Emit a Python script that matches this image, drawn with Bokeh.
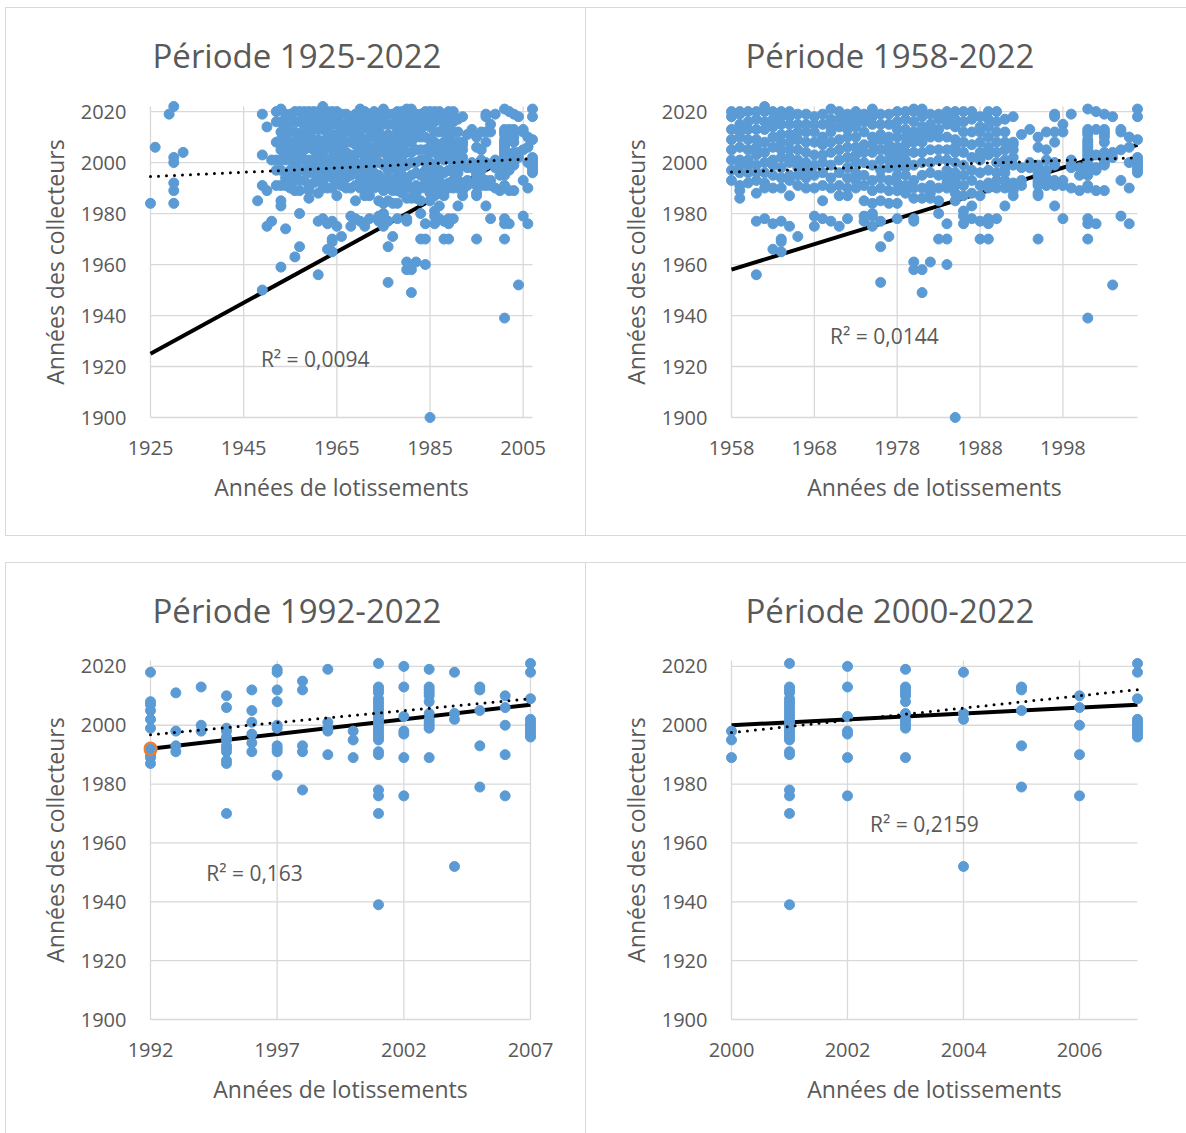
from bokeh.plotting import figure
from bokeh.models import Label, Range1d, FixedTicker, Spacer, ColumnDataSource
from bokeh.layouts import row, column
from bokeh.embed import file_html
from bokeh.resources import INLINE

# ---------------- data ----------------
lot_years = [1925, 1926, 1929, 1930, 1932, 1948, 1949, 1950, 1951, 1952, 1953, 1954,
             1955, 1956, 1957, 1958, 1959, 1960, 1961, 1962, 1963, 1964, 1965, 1966,
             1967, 1968, 1969, 1970, 1971, 1972, 1973, 1974, 1975, 1976, 1977, 1978,
             1979, 1980, 1981, 1982, 1983, 1984, 1985, 1986, 1987, 1988, 1989, 1990,
             1991, 1992, 1993, 1994, 1995, 1996, 1997, 1998, 1999, 2000, 2001, 2002,
             2003, 2004, 2005, 2006, 2007]

collector_years = [
    [1984], [2006], [2019], [2022, 2002, 2000, 1992, 1989, 1984], [2004],
    [1985], [2019, 2003, 1991, 1950], [2014, 1989, 1975], [2001, 1977],
    [2020, 2016, 2008, 2001, 1997, 1991],
    [2021, 2016, 2012, 2009, 2005, 2001, 1997, 1991, 1985, 1983, 1959],
    [2019, 2015, 2011, 2007, 2004, 2001, 1994, 1991, 1974],
    [2019, 2016, 2012, 2008, 2004, 2001, 1997, 1993, 1990],
    [2020, 2016, 2012, 2008, 2005, 2003, 1999, 1996, 1993, 1989, 1963],
    [2020, 2016, 2011, 2007, 2003, 2001, 1997, 1993, 1989, 1980, 1967],
    [2020, 2018, 2013, 2009, 2005, 2001, 1997, 1993],
    [2020, 2019, 2015, 2012, 2010, 2006, 2001, 1999, 1996, 1991, 1989, 1986],
    [2020, 2016, 2013, 2009, 2005, 2001, 1999, 1996, 1992],
    [2020, 2017, 2013, 2009, 2006, 2003, 1999, 1996, 1993, 1988, 1977, 1956],
    [2022, 2020, 2016, 2013, 2008, 2004, 2000, 1996, 1992, 1990, 1978],
    [2020, 2017, 2014, 2010, 2006, 2001, 1999, 1995, 1990, 1976, 1966],
    [2020, 2018, 2015, 2011, 2008, 2005, 2002, 1998, 1994, 1990, 1977, 1970, 1969, 1965],
    [2020, 2018, 2015, 2011, 2008, 2005, 2002, 2000, 1995, 1993, 1987, 1975],
    [2019, 2015, 2012, 2009, 2005, 2001, 1998, 1995, 1991, 1971],
    [2019, 2015, 2012, 2008, 2004, 2000, 1997, 1994, 1990],
    [2018, 2015, 2012, 2008, 2003, 1999, 1995, 1990, 1979, 1975],
    [2019, 2015, 2010, 2007, 2003, 2000, 1996, 1991, 1985, 1978],
    [2021, 2017, 2014, 2012, 2008, 2004, 1999, 1994, 1990, 1977],
    [2020, 2017, 2014, 2009, 2005, 2001, 1996, 1991, 1987, 1975],
    [2019, 2016, 2013, 2010, 2006, 2002, 1998, 1994, 1990, 1987, 1978],
    [2020, 2017, 2014, 2010, 2006, 2003, 2000, 1996, 1993, 1990],
    [2019, 2016, 2012, 2007, 2004, 2000, 1995, 1991, 1985, 1979, 1977],
    [2021, 2018, 2015, 2010, 2007, 2004, 1999, 1993, 1989, 1984, 1980, 1979, 1975],
    [2019, 2015, 2011, 2009, 2005, 2001, 1997, 1994, 1990, 1985, 1977, 1967, 1953],
    [2019, 2015, 2010, 2007, 2004, 2001, 1998, 1993, 1989, 1984, 1971],
    [2020, 2016, 2013, 2010, 2006, 2003, 2000, 1998, 1995, 1992, 1989, 1984, 1978],
    [2020, 2017, 2013, 2010, 2007, 2004, 2001, 1998, 1995, 1991, 1988],
    [2021, 2020, 2016, 2012, 2010, 2008, 2004, 1999, 1993, 1990, 1986, 1978, 1977, 1961, 1958],
    [2021, 2018, 2014, 2011, 2008, 2004, 2000, 1995, 1990, 1986, 1958, 1949],
    [2019, 2015, 2012, 2010, 2005, 2000, 1996, 1991, 1988, 1986, 1961],
    [2019, 2017, 2013, 2010, 2005, 2001, 1995, 1990, 1985, 1980, 1970],
    [2020, 2018, 2015, 2010, 2005, 2001, 1997, 1994, 1992, 1990, 1976, 1970, 1960],
    [2020, 2017, 2014, 2009, 2006, 2004, 2000, 1996, 1993, 1991, 1988, 1985, 1900],
    [2020, 2016, 2012, 2008, 2004, 1999, 1995, 1991, 1987, 1981, 1979, 1976],
    [2020, 2017, 2012, 2007, 2002, 1997, 1993, 1988, 1983, 1978],
    [2018, 2014, 2012, 2008, 2004, 2001, 1996, 1991, 1987, 1977, 1970],
    [2020, 2017, 2014, 2010, 2006, 2003, 1997, 1992, 1990, 1978, 1976, 1970],
    [2020, 2016, 2012, 2008, 2004, 2000, 1996, 1993, 1990, 1978],
    [2017, 2012, 2008, 2005, 2001, 1998, 1996, 1993, 1990, 1983],
    [2018, 2008, 2007, 2005, 2002, 1999, 1992, 1990, 1989, 1987],
    [2011, 1998, 1993, 1991],
    [2013, 2000, 1998],
    [2010, 2006, 1999, 1998, 1996, 1995, 1993, 1992, 1991, 1988, 1987, 1970],
    [2012, 2005, 2001, 1997, 1994, 1991],
    [2019, 2018, 2012, 2008, 2000, 1999, 1993, 1992, 1991, 1983],
    [2015, 2012, 1993, 1991, 1978],
    [2019, 2001, 1999, 1998, 1990],
    [1998, 1995, 1989],
    [2021, 2013, 2012, 2011, 2009, 2008, 2007, 2006, 2005, 2004, 2003, 2002, 2001,
     2000, 1999, 1998, 1997, 1996, 1995, 1991, 1990, 1978, 1976, 1970, 1939],
    [2020, 2013, 2003, 1998, 1997, 1989, 1976],
    [2019, 2013, 2012, 2011, 2010, 2008, 2004, 2002, 2001, 2000, 1999, 1989],
    [2018, 2004, 2002, 1952],
    [2013, 2012, 2005, 1993, 1979],
    [2010, 2006, 2000, 1990, 1976],
    [2021, 2018, 2009, 2002, 2001, 2000, 1999, 1998, 1997, 1996],
]

titles = ["Période 1925-2022", "Période 1958-2022", "Période 1992-2022", "Période 2000-2022"]
period_start = [1925, 1958, 1992, 2000]
x_end = 2007
y_min, y_max = 1900, 2022
y_ticks = [1900, 1920, 1940, 1960, 1980, 2000, 2020]
x_ticks = [[1925, 1945, 1965, 1985, 2005],
           [1958, 1968, 1978, 1988, 1998],
           [1992, 1997, 2002, 2007],
           [2000, 2002, 2004, 2006]]
trend_start = [1994.5, 1996.3, 1996.8, 1997.5]
trend_end = [2001.5, 2001.9, 2009.0, 2012.1]
r2_text = ["R² = 0,0094", "R² = 0,0144", "R² = 0,163", "R² = 0,2159"]
x_label = "Années de lotissements"
y_label = "Années des collecteurs"

# flatten
xs, ys = [], []
for yr, grp in zip(lot_years, collector_years):
    for v in grp:
        xs.append(yr)
        ys.append(v)

# ---------------- layout / style ----------------
BLUE = "#5B9BD5"
ORANGE = "#ED7D31"
GRID = "#D9D9D9"
TXT = "#595959"
FONT = "Open Sans"
PAD = 7

# (fig width, fig height, data left, data right, data top, data bottom) in px
geom = [(579, 527, 144, 526, 98, 409),
        (600, 527, 145, 551, 98, 409),
        (579, 570, 144, 524, 97, 456),
        (600, 570, 145, 551, 97, 456)]
title_offset = [9, 21, 9, 21]
title_standoff = [43, 43, 42, 42]
r2_pos = [(1948.7, 1923.0), (1969.9, 1931.8), (1994.2, 1949.9), (2002.39, 1966.5)]

figs = []
for i in range(4):
    w, h, L, R, T, B = geom[i]
    x0 = period_start[i]
    sx = (R - L) / (x_end - x0)
    sy = (B - T) / (y_max - y_min)
    p = figure(width=w, height=h, output_backend="svg", toolbar_location=None,
               x_range=Range1d(x0 - PAD / sx, x_end + PAD / sx),
               y_range=Range1d(y_min - PAD / sy, y_max + PAD / sy),
               min_border_left=L - PAD, min_border_right=w - (R + PAD),
               min_border_top=T - PAD, min_border_bottom=h - (B + PAD))
    p.outline_line_color = None
    p.background_fill_color = "white"
    p.border_fill_color = "white"
    p.xgrid.grid_line_color = None
    p.ygrid.grid_line_color = None

    # grid lines
    vt = x_ticks[i]
    p.segment(x0=vt, y0=[y_min] * len(vt), x1=vt, y1=[y_max] * len(vt),
              line_color=GRID, line_width=1.3)
    p.segment(x0=[x0] * len(y_ticks), y0=y_ticks, x1=[x_end] * len(y_ticks), y1=y_ticks,
              line_color=GRID, line_width=1.3)

    # y = x reference line
    p.line(x=[x0, x_end], y=[x0, x_end], line_color="black", line_width=4)

    sel = [(a, b) for a, b in zip(xs, ys) if a >= x0]
    src = ColumnDataSource(dict(x=[a for a, _ in sel], y=[b for _, b in sel]))
    p.scatter(x="x", y="y", source=src, size=10, fill_color=BLUE, line_color=BLUE)

    if i == 2:
        p.scatter(x=[x0], y=[x0], size=12, fill_color=BLUE, line_color=ORANGE, line_width=2.5)

    # linear trend (dotted)
    p.line(x=[x0, x_end], y=[trend_start[i], trend_end[i]], line_color="black",
           line_width=3, line_dash="0 8", line_cap="round")

    p.add_layout(Label(x=r2_pos[i][0], y=r2_pos[i][1], text=r2_text[i],
                       text_font=FONT, text_font_size="21px", text_color=TXT,
                       text_baseline="middle", text_align="left"))

    for ax in (p.xaxis, p.yaxis):
        ax.axis_line_color = None
        ax.major_tick_line_color = None
        ax.minor_tick_line_color = None
        ax.major_tick_out = 0
        ax.major_tick_in = 0
        ax.major_label_text_font = FONT
        ax.major_label_text_font_size = "20px"
        ax.major_label_text_color = TXT
        ax.axis_label_text_font = FONT
        ax.axis_label_text_font_size = "23px"
        ax.axis_label_text_font_style = "normal"
        ax.axis_label_text_color = TXT
    p.xaxis.ticker = FixedTicker(ticks=x_ticks[i])
    p.yaxis.ticker = FixedTicker(ticks=y_ticks)
    p.xaxis.axis_label = x_label
    p.yaxis.axis_label = y_label
    p.xaxis.major_label_standoff = 16
    p.yaxis.major_label_standoff = 17
    p.xaxis.axis_label_standoff = 13
    p.yaxis.axis_label_standoff = 7

    p.title.text = titles[i]
    p.title.align = "left"
    p.title.text_font = FONT
    p.title.text_font_size = "33px"
    p.title.text_font_style = "normal"
    p.title.text_color = TXT
    p.title.offset = title_offset[i]
    p.title.standoff = title_standoff[i]
    figs.append(p)

B1 = "1px solid " + GRID
w1 = column(figs[0], styles={"border-top": B1, "border-bottom": B1, "border-left": B1, "border-right": B1})
w2 = column(figs[1], styles={"border-top": B1, "border-bottom": B1})
w3 = column(figs[2], styles={"border-top": B1, "border-left": B1, "border-right": B1})
w4 = column(figs[3], styles={"border-top": B1})

layout = column(Spacer(height=7),
                row(Spacer(width=5), w1, w2),
                Spacer(height=26),
                row(Spacer(width=5), w3, w4))

open("out.html", "w").write(file_html(layout, INLINE))
